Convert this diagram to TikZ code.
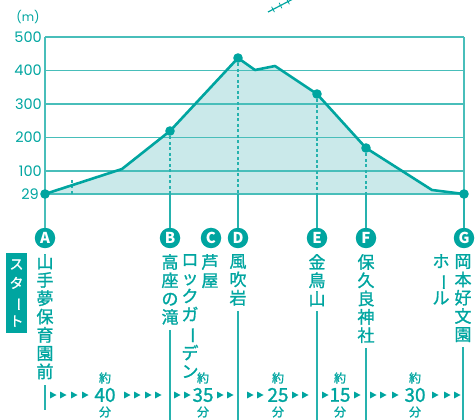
\documentclass[tikz,border=0pt]{standalone}
\usepackage{fontspec}
\setmainfont{Noto Sans CJK JP}
\newfontfamily\jpmid[FakeBold=1.2]{Noto Sans CJK JP}
\newfontfamily\axisfont{Poppins}
\definecolor{route}{RGB}{0,165,160}
\definecolor{area}{RGB}{202,233,234}
\definecolor{rule}{RGB}{72,190,186}
\newcommand{\tate}{\rotatebox[origin=c]{-90}{ー}}

\begin{document}
\begin{tikzpicture}[x=1pt,y=-1pt,
  gridline/.style={rule,line width=1.3},
  guide/.style={route!85,line width=1.1},
  stop/.style={circle,fill=route,text=white,minimum size=20.5,inner sep=0,font=\fontsize{15}{15}\selectfont\bfseries},
  place/.style={text=route,align=center,inner sep=0,anchor=north,font=\jpmid\fontsize{17}{18.3}\selectfont},
  height/.style={text=route,anchor=east,inner sep=0,font=\axisfont\fontsize{14.5}{14.5}\selectfont},
  yaku/.style={text=route,inner sep=0,font=\jpmid\fontsize{12}{12}\selectfont},
  mins/.style={text=route,inner sep=0,font=\jpmid\fontsize{19}{19}\selectfont}]
\useasboundingbox (0,0) rectangle (475,420);

\coordinate (pA) at (45,194);
\coordinate (pB) at (170,131);
\coordinate (pD) at (238,58);
\coordinate (pE) at (317,94);
\coordinate (pF) at (366,148);
\coordinate (pG) at (464,194);

\fill[area] (pA) -- (122,169) -- (pB) -- (pD) -- (255,70) -- (275,66) -- (pE) -- (pF) -- (432,190) -- (pG) -- cycle;

\draw[gridline] (45,37) -- (464,37);
\draw[gridline] (45,70.5) -- (464,70.5);
\draw[gridline] (45,104) -- (464,104);
\draw[gridline] (45,137.5) -- (464,137.5);
\draw[gridline] (45,171) -- (464,171);
\draw[gridline,line width=1.8] (pA) -- (pG);
\draw[gridline] (464,37) -- (pG);

\node[height] (h500) at (42,37) {500};
\node[height] (h400) at (42,70.5) {400};
\node[height] (h300) at (42,104) {300};
\node[height] (h200) at (42,137.5) {200};
\node[height] (h100) at (42,171) {100};
\node[height] (h29) at (39,194) {29};
\node[text=route,inner sep=0,font=\axisfont\fontsize{12}{12}\selectfont] (unit) at (28,17) {(m)};

\node[stop] (A) at (45,238) {A};
\node[stop] (B) at (170,238) {B};
\node[stop] (C) at (211,238) {C};
\node[stop] (D) at (238,238) {D};
\node[stop] (E) at (317,238) {E};
\node[stop] (F) at (366,238) {F};
\node[stop] (G) at (464,238) {G};

\draw[gridline] (45,37) -- (A);
\draw[guide,dash pattern=on 3pt off 2.5pt] (72,180) -- (72,194);
\foreach \s in {B,D,E,F} {
  \draw[guide,dash pattern=on 3pt off 2.5pt] (p\s) -- (p\s |- pA);
  \draw[guide] (p\s |- pA) -- (\s);
}
\draw[guide] (pG) -- (G);

\draw[route,line width=2.6,line join=round] (pA) -- (122,169) -- (pB) -- (pD) -- (255,70) -- (275,66) -- (pE) -- (pF) -- (432,190) -- (pG);
\fill[route] (pA) circle (4.8);
\fill[route] (pB) circle (4.8);
\fill[route] (pD) circle (4.8);
\fill[route] (pE) circle (4.8);
\fill[route] (pF) circle (4.8);
\fill[route] (pG) circle (4.8);

\draw[route,line width=1.2] (268,12) -- (293,-1);
\draw[route,line width=0.8] (271.6,6.7) -- (274.4,12.1);
\draw[route,line width=0.8] (279.1,2.8) -- (281.9,8.2);
\draw[route,line width=0.8] (286.6,-1.1) -- (289.4,4.3);

\node[fill=route,text=white,align=center,minimum width=21,minimum height=79,inner sep=0,font=\jpmid\fontsize{14}{19}\selectfont] (start) at (16.5,293) {ス\\タ\\\tate\\ト};

\node[place] (nA) at (45,254) {山\\手\\夢\\保\\育\\園\\前};
\node[place] (nB) at (170,254) {高\\座\\の\\滝};
\node[place] (nC) at (210,254) {芦\\屋};
\node[place] (nC2) at (190,254) {ロ\\ッ\\ク\\ガ\\\tate\\デ\\ン};
\node[place] (nD) at (238,254) {風\\吹\\岩};
\node[place] (nE) at (317,254) {金\\鳥\\山};
\node[place] (nF) at (366,254) {保\\久\\良\\神\\社};
\node[place] (nG) at (463,254) {岡\\本\\好\\文\\園};
\node[place] (nG2) at (441,254) {ホ\\\tate\\ル};

\draw[guide] ([yshift=-6pt]nA.south) -- (nA.south |- 0,410);
\foreach \s in {B,D,E,F,G}
  \draw[guide] ([yshift=-5pt]n\s.south) -- (n\s.south |- 0,420);

\foreach \x in {53,63,74,85,127,137,148,158,177,187,220,230,250,260,295,305,325,357,373,383,395,435,447,457}
  \fill[route] (\x-3,391.5) -- (\x+3.5,395) -- (\x-3,398.5) -- cycle;

\foreach \x/\t/\n in {105/40/ab,203/35/bd,278/25/de,340/15/ef,415/30/fg} {
  \node[yaku] (y\n) at (\x,378) {約};
  \node[mins] (m\n) at (\x,395) {\t};
  \node[yaku] (f\n) at (\x,412) {分};
}
\end{tikzpicture}
\end{document}
